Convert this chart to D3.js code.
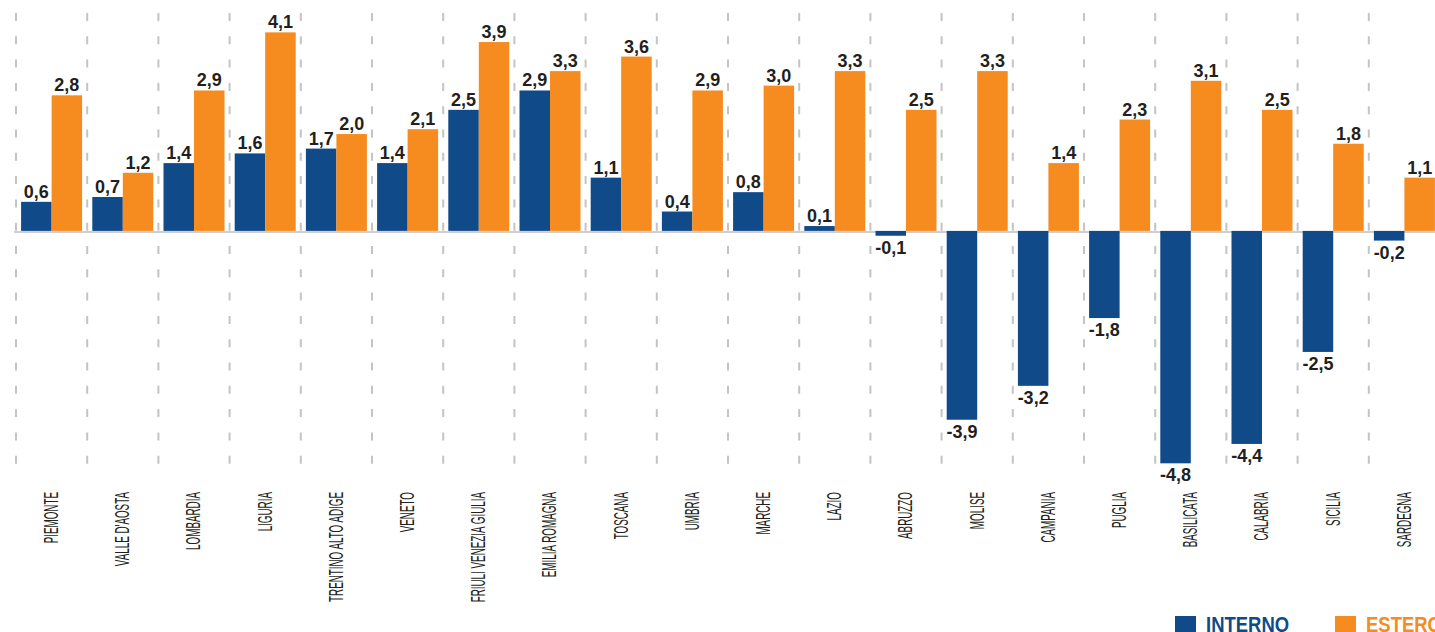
<!DOCTYPE html>
<html><head><meta charset="utf-8">
<script src="https://cdn.jsdelivr.net/npm/d3@7"></script>
<style>html,body{margin:0;padding:0;background:#fff;overflow:hidden}</style>
</head><body>
<svg id="chart" width="1435" height="632"></svg>
<script>
const categories = ["PIEMONTE","VALLE D'AOSTA","LOMBARDIA","LIGURIA","TRENTINO ALTO ADIGE","VENETO","FRIULI VENEZIA GIULIA","EMILIA ROMAGNA","TOSCANA","UMBRIA","MARCHE","LAZIO","ABRUZZO","MOLISE","CAMPANIA","PUGLIA","BASILICATA","CALABRIA","SICILIA","SARDEGNA"];
const interno = [0.6,0.7,1.4,1.6,1.7,1.4,2.5,2.9,1.1,0.4,0.8,0.1,-0.1,-3.9,-3.2,-1.8,-4.8,-4.4,-2.5,-0.2];
const estero  = [2.8,1.2,2.9,4.1,2.0,2.1,3.9,3.3,3.6,2.9,3.0,3.3,2.5,3.3,1.4,2.3,3.1,2.5,1.8,1.1];
const seriesNames = ["INTERNO","ESTERO"];
const colors = ["#114a89","#f68b1f"];

const svg = d3.select("#chart");
const x = d3.scaleBand().domain(categories).range([16, 1440]).paddingInner(0).paddingOuter(0);
const xs = d3.scaleBand().domain([0,1]).range([0, x.bandwidth()]).paddingInner(0).paddingOuter(0.167);
const y = d3.scaleLinear().domain([-5, 4.5]).range([473, 13]);
const fmt = v => d3.format(".1f")(v).replace("−","-").replace(".",",");

// vertical dashed separators
svg.append("g").selectAll("line").data(categories).join("line")
  .attr("x1", d => x(d)).attr("x2", d => x(d))
  .attr("y1", 13).attr("y2", 476)
  .attr("stroke", "#c4c4c4").attr("stroke-width", 2)
  .attr("stroke-dasharray", "8,15.3");

// zero line
svg.append("line").attr("x1", 14).attr("x2", 1435)
  .attr("y1", y(0)+1).attr("y2", y(0)+1)
  .attr("stroke", "#cfcfcf").attr("stroke-width", 2);

const data = [];
categories.forEach((c,i) => {
  data.push({c, s:0, v: interno[i]});
  data.push({c, s:1, v: estero[i]});
});

svg.append("g").selectAll("rect").data(data).join("rect")
  .attr("x", d => x(d.c) + xs(d.s))
  .attr("width", xs.bandwidth())
  .attr("y", d => y(Math.max(0, d.v)))
  .attr("height", d => Math.abs(y(d.v) - y(0)))
  .attr("fill", d => colors[d.s]);

svg.append("g").selectAll("text").data(data).join("text")
  .attr("x", d => x(d.c) + xs(d.s) + xs.bandwidth()/2)
  .attr("y", d => d.v >= 0 ? y(d.v) - 4 : y(d.v) + 18)
  .attr("text-anchor", "middle")
  .attr("font-family", "Liberation Sans, Arial, sans-serif")
  .attr("font-weight", "bold").attr("font-size", 18)
  .attr("fill", "#231f20")
  .text(d => fmt(d.v));

// category labels
svg.append("g").selectAll("text").data(categories).join("text")
  .attr("transform", d => `translate(${x(d) + x.bandwidth()/2 - 1},492) rotate(-90) scale(0.48,1)`)
  .attr("text-anchor", "end").attr("dy", "0.36em")
  .attr("font-family", "Liberation Sans, Arial, sans-serif")
  .attr("font-size", 20.5).attr("fill", "#231f20")
  .text(d => d);

// legend
const legX = [1175, 1335];
const lg = svg.append("g").selectAll("g").data(seriesNames).join("g")
  .attr("transform", (d,i) => `translate(${legX[i]},616)`);
lg.append("rect").attr("width", 21).attr("height", 21).attr("fill", (d,i) => colors[i]);
lg.append("text").attr("transform", "translate(31,15.5) scale(0.84,1)")
  .attr("font-family", "Liberation Sans, Arial, sans-serif")
  .attr("font-weight", "bold").attr("font-size", 22)
  .attr("fill", (d,i) => colors[i]).text(d => d);
</script>
</body></html>
